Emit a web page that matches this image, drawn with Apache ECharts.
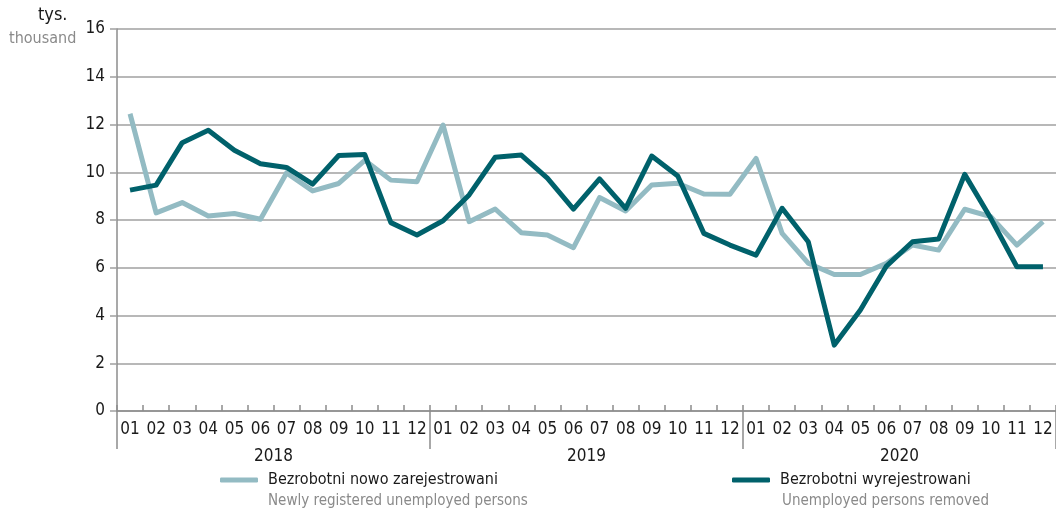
<!DOCTYPE html>
<html lang="pl">
  <head>
    <meta charset="UTF-8" />
    <title>Bezrobotni</title>
    <script src="https://cdn.jsdelivr.net/npm/echarts@6/dist/echarts.min.js"></script>
    <style>
      html,
      body {
        margin: 0;
        padding: 0;
        background: #fff;
      }
      #chart {
        width: 1056px;
        height: 513px;
      }
    </style>
  </head>
  <body>
    <div id="chart"></div>
    <script type="text/javascript">
      // dane
      const years = ["2018", "2019", "2020"];
      const months = ["01", "02", "03", "04", "05", "06", "07", "08", "09", "10", "11", "12"];
      const yTicks = [0, 2, 4, 6, 8, 10, 12, 14, 16];
      const newlyRegistered = [
        12.45, 8.3, 8.73, 8.17, 8.27, 8.03, 9.97, 9.22, 9.53, 10.5, 9.67, 9.6,
        11.98, 7.93, 8.46, 7.47, 7.37, 6.84, 8.94, 8.38, 9.47, 9.54, 9.09, 9.08,
        10.58, 7.44, 6.19, 5.72, 5.72, 6.19, 6.95, 6.74, 8.45, 8.14, 6.95, 7.93,
      ];
      const removed = [
        9.25, 9.46, 11.24, 11.76, 10.92, 10.36, 10.2, 9.5, 10.7, 10.74, 7.89, 7.37,
        7.97, 9.05, 10.63, 10.72, 9.75, 8.46, 9.72, 8.49, 10.68, 9.84, 7.44, 6.95,
        6.53, 8.49, 7.09, 2.76, 4.23, 6.07, 7.09, 7.2, 9.91, 8.07, 6.04, 6.04,
      ];
      const seriesNames = ["Bezrobotni nowo zarejestrowani", "Bezrobotni wyrejestrowani"];
      const seriesNamesEn = ["Newly registered unemployed persons", "Unemployed persons removed"];

      // kategorie: 36 miesięcy
      const categories = [];
      years.forEach((y) => months.forEach((m) => categories.push(m)));

      const font = '"Liberation Sans Narrow", "DejaVu Sans Condensed", sans-serif';
      const lightColor = "#93bbc3";
      const darkColor = "#00616b";
      const axisGray = "#8c8c8c";
      const gridGray = "#a0a0a0";
      const greyText = "#8a8a8a";

      const myChart = echarts.init(document.getElementById("chart"));

      const options = {
        animation: false,
        textStyle: { fontFamily: font },
        grid: {
          left: 117,
          right: -2,
          top: 29,
          bottom: 102,
        },
        legend: [
          {
            data: [seriesNames[0]],
            left: 220,
            top: 472,
            padding: 0,
            icon: "roundRect",
            itemWidth: 38,
            itemHeight: 5,
            selectedMode: false,
            textStyle: { fontFamily: font, fontSize: 16, color: "#1a1a1a", padding: [0, 0, 0, 5] },
          },
          {
            data: [seriesNames[1]],
            left: 732,
            top: 472,
            padding: 0,
            icon: "roundRect",
            itemWidth: 38,
            itemHeight: 5,
            selectedMode: false,
            textStyle: { fontFamily: font, fontSize: 16, color: "#1a1a1a", padding: [0, 0, 0, 5] },
          },
        ],
        graphic: [
          {
            type: "text",
            left: 38,
            top: 6,
            style: { text: "tys.", font: "18px " + font, fill: "#1a1a1a" },
          },
          {
            type: "text",
            left: 9,
            top: 31,
            style: { text: "thousand", font: "16px " + font, fill: greyText },
          },
          {
            type: "text",
            left: 268,
            top: 494,
            style: { text: seriesNamesEn[0], font: "15px " + font, fill: greyText },
          },
          {
            type: "text",
            left: 782,
            top: 494,
            style: { text: seriesNamesEn[1], font: "15px " + font, fill: greyText },
          },
        ],
        xAxis: [
          {
            type: "category",
            data: categories,
            position: "bottom",
            boundaryGap: true,
            axisLine: { lineStyle: { color: axisGray, width: 1.5 } },
            axisTick: {
              show: true,
              interval: 0,
              inside: true,
              length: 6,
              lineStyle: { color: axisGray, width: 1.5 },
            },
            axisLabel: {
              interval: 0,
              margin: 10,
              fontSize: 17,
              color: "#1a1a1a",
              fontFamily: font,
            },
            splitLine: { show: false },
          },
          {
            // lata
            type: "category",
            data: years,
            position: "bottom",
            boundaryGap: true,
            axisLine: { show: false },
            axisTick: {
              show: true,
              length: 38,
              lineStyle: { color: axisGray, width: 1.5 },
            },
            axisLabel: {
              margin: 37,
              fontSize: 17,
              color: "#1a1a1a",
              fontFamily: font,
            },
            splitLine: { show: false },
          },
        ],
        yAxis: {
          type: "value",
          min: yTicks[0],
          max: yTicks[yTicks.length - 1],
          interval: 2,
          axisLine: { show: true, lineStyle: { color: axisGray, width: 1.5 } },
          axisTick: { show: true, length: 7, lineStyle: { color: gridGray, width: 1.5 } },
          axisLabel: {
            margin: 12,
            fontSize: 17,
            color: "#1a1a1a",
            fontFamily: font,
          },
          splitLine: { show: true, lineStyle: { color: gridGray, width: 1.5 } },
        },
        series: [
          {
            name: seriesNames[0],
            type: "line",
            data: newlyRegistered,
            symbol: "none",
            color: lightColor,
            lineStyle: { width: 5, color: lightColor, join: "round" },
            z: 2,
          },
          {
            name: seriesNames[1],
            type: "line",
            data: removed,
            symbol: "none",
            color: darkColor,
            lineStyle: { width: 5, color: darkColor, join: "round" },
            z: 3,
          },
        ],
      };
      myChart.setOption(options);
    </script>
  </body>
</html>
